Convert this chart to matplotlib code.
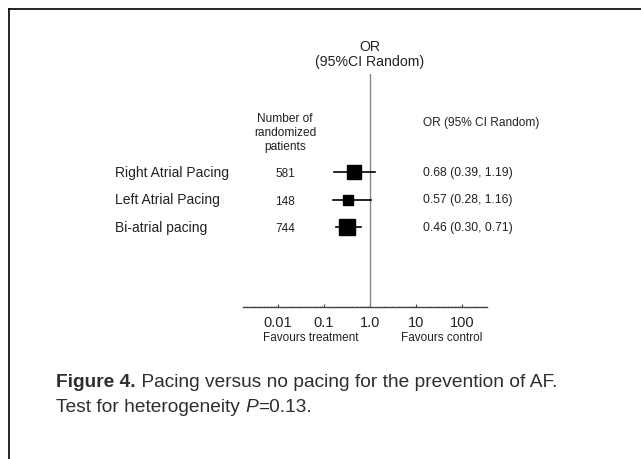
import matplotlib
matplotlib.use("Agg")
import matplotlib.pyplot as plt
import matplotlib.transforms as mtransforms
from matplotlib.lines import Line2D
import numpy as np

plt.rcParams['font.family'] = ['Liberation Sans', 'DejaVu Sans']

# Data
groups = ['Right Atrial Pacing', 'Left Atrial Pacing', 'Bi-atrial pacing']
patients = [581, 148, 744]
or_text = ['0.68 (0.39, 1.19)', '0.57 (0.28, 1.16)', '0.46 (0.30, 0.71)']
# positions of squares / whiskers as drawn in the figure
or_drawn = [0.45, 0.33, 0.32]
lo_drawn = [0.165, 0.157, 0.182]
hi_drawn = [1.28, 1.05, 0.64]
ticks = [0.01, 0.1, 1.0, 10, 100]
tick_labels = ['0.01', '0.1', '1.0', '10', '100']

W, H = 641, 460
fig = plt.figure(figsize=(W / 100, H / 100), dpi=100)

def fx(px):
    return px / W

def fy(py):
    return 1 - py / H

# Frame round the figure panel
fig.add_artist(Line2D([fx(9), fx(9)], [fy(10), fy(460)], color='k', lw=1.2))
fig.add_artist(Line2D([fx(9), fx(641)], [fy(10), fy(10)], color='k', lw=1.2))

# Forest plot axes (pixel box 243..487 x 75..308)
ax = fig.add_axes([fx(243), fy(308), fx(487) - fx(243), fy(75) - fy(308)])
ax.set_xscale('log')
ppd = 46.0  # pixels per decade
ax.set_xlim(10 ** ((243 - 370) / ppd), 10 ** ((487 - 370) / ppd))
rows = np.arange(len(groups))
ax.set_ylim((308 - 173) / 27.5, (75 - 173) / 27.5)

for s in ['top', 'right', 'left']:
    ax.spines[s].set_visible(False)
ax.spines['bottom'].set_color('#444444')
ax.spines['bottom'].set_linewidth(1.0)
ax.set_yticks([])
ax.set_xticks(ticks)
ax.set_xticklabels(tick_labels)
ax.tick_params(axis='x', which='major', direction='in', length=2, pad=6,
               labelsize=10.5, colors='#444444', labelcolor='#222222')
ax.tick_params(axis='x', which='minor', direction='in', length=1, colors='#777777')

ax.axvline(1.0, color='#888888', lw=1.0)

for i in rows:
    ax.plot([lo_drawn[i], hi_drawn[i]], [i, i], color='k', lw=1.2)
    ax.plot(or_drawn[i], i, marker='s', color='k',
            markersize=4 + 0.25 * np.sqrt(patients[i]))

# Text columns tied to row positions
tr = mtransforms.blended_transform_factory(fig.transFigure, ax.transData)
for i in rows:
    ax.text(fx(115), i, groups[i], transform=tr, ha='left', va='center',
            fontsize=10, color='#222222')
    ax.text(fx(285), i + 0.05, str(patients[i]), transform=tr, ha='center',
            va='center', fontsize=8.5, color='#222222')
    ax.text(fx(423), i, or_text[i], transform=tr, ha='left', va='center',
            fontsize=8.7, color='#222222')

# Headers
fig.text(fx(370), fy(47), 'OR', ha='center', va='center', fontsize=10.2, color='#222222')
fig.text(fx(370), fy(62), '(95%CI Random)', ha='center', va='center',
         fontsize=10.2, color='#222222')
fig.text(fx(285), fy(133), 'Number of\nrandomized\npatients', ha='center',
         va='center', fontsize=8.6, linespacing=1.25, color='#222222')
fig.text(fx(423), fy(123), 'OR (95% CI Random)', ha='left', va='center',
         fontsize=8.6, color='#222222')

# Favours labels
fig.text(fx(311), fy(338), 'Favours treatment', ha='center', va='center',
         fontsize=8.5, color='#222222')
fig.text(fx(442), fy(338), 'Favours control', ha='center', va='center',
         fontsize=8.5, color='#222222')

# Caption
cap = '#2e2e2e'
t1 = fig.text(fx(56), fy(383), 'Figure 4.', ha='left', va='center',
              fontsize=13.8, fontweight='bold', color=cap)
plt.annotate(' Pacing versus no pacing for the prevention of AF.',
             xy=(1, 0.5), xycoords=t1, va='center', ha='left',
             fontsize=13.8, color=cap, annotation_clip=False)
t2 = fig.text(fx(56), fy(408), 'Test for heterogeneity ', ha='left',
              va='center', fontsize=13.8, color=cap)
t3 = plt.annotate('P', xy=(1, 0.5), xycoords=t2, va='center', ha='left',
                  fontsize=13.8, fontstyle='italic', color=cap, annotation_clip=False)
plt.annotate('=0.13.', xy=(1, 0.5), xycoords=t3, va='center', ha='left',
             fontsize=13.8, color=cap, annotation_clip=False)

fig.savefig('out.png', dpi=100)
